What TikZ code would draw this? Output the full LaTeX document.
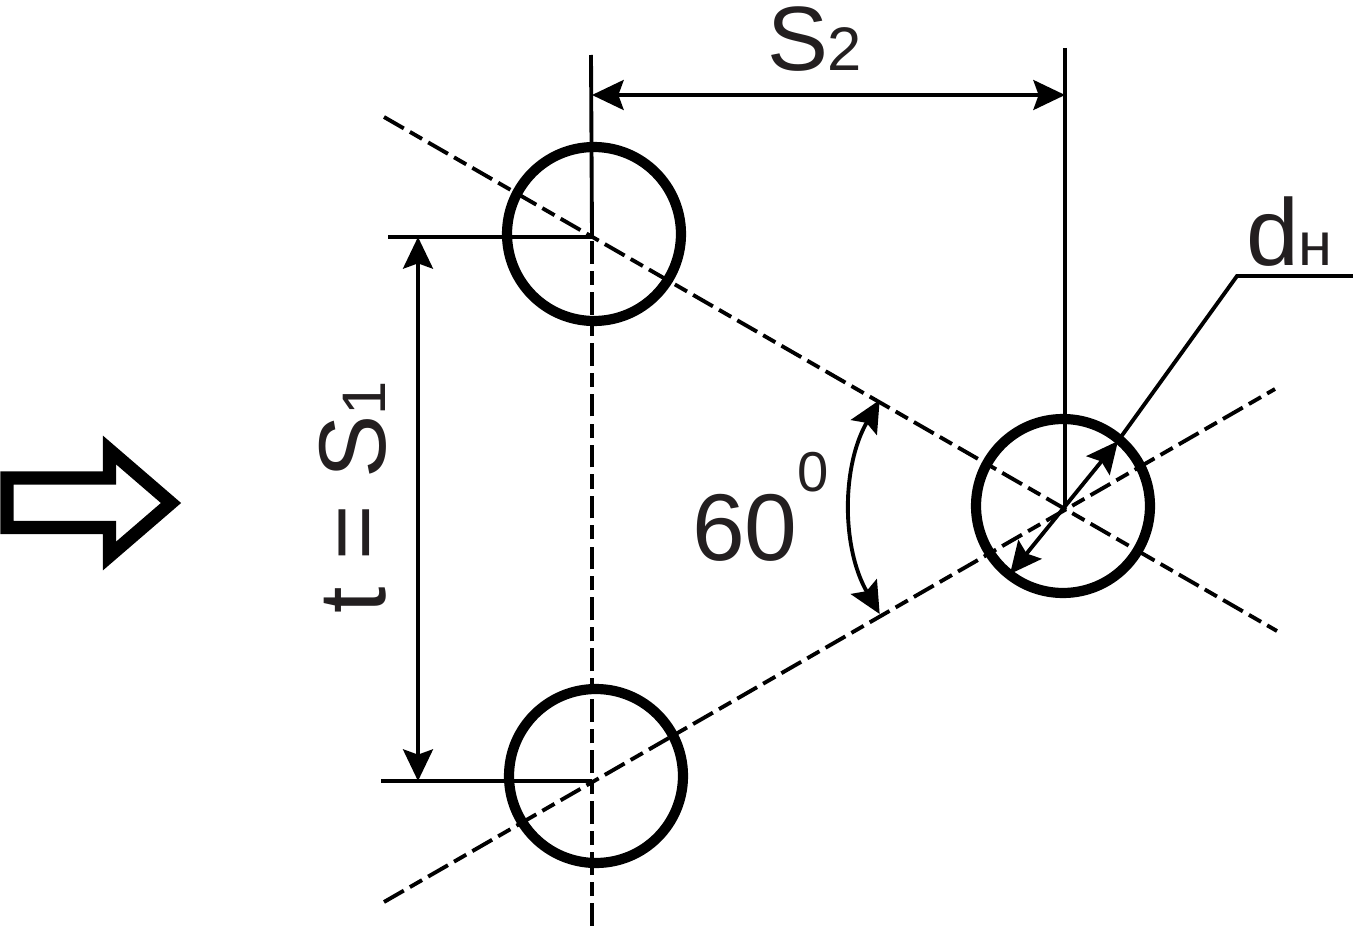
\documentclass[tikz,border=0pt]{standalone}
\usepackage{fontspec}
\setmainfont{Liberation Sans}
\usetikzlibrary{arrows.meta}
\definecolor{labelcolor}{HTML}{231F20}
\newcommand{\sublabel}{\fontsize{35}{35}\selectfont}
\tikzset{
  thinline/.style={line width=2.2pt},
  centerline/.style={line width=2.2pt,dash pattern=on 13pt off 4pt on 8pt off 4pt},
  tube/.style={circle,draw,line width=5.8pt,minimum size=3.48cm,inner sep=0pt,outer sep=0pt},
  dimline/.style={thinline,{Stealth[length=18pt,width=17pt,inset=3pt]}-{Stealth[length=18pt,width=17pt,inset=3pt]}},
  biglabel/.style={text=labelcolor,font=\fontsize{54}{54}\selectfont,inner sep=0pt,outer sep=0pt},
}
\begin{document}
\begin{tikzpicture}[x=0.02cm,y=0.02cm]
\useasboundingbox (0,0) rectangle (1353,-926);

% draw tubes
\foreach \name/\x/\y in {tubeTop/594/-234,tubeBottom/596/-776,tubeRight/1063/-506}
{
\node[tube] (\name) at (\x,\y) {};
}

% centre points and line ends
\coordinate (centerTop) at (592,-236);
\coordinate (centerBottom) at (592,-781);
\coordinate (apex) at (1065,-507);
\coordinate (axisTop) at (591,-55);
\coordinate (axisEnd) at (592,-926);
\coordinate (rightTop) at (1065,-48);
\coordinate (diagUp) at (384,-117);
\coordinate (diagUpEnd) at (1277,-631);
\coordinate (diagDown) at (384,-902);
\coordinate (diagDownEnd) at (1275,-389);

% draw centre lines
\draw[centerline] (axisEnd) -- (centerTop);
\draw[centerline] (diagUp) -- (diagUpEnd);
\draw[centerline] (diagDown) -- (diagDownEnd);

% draw extension lines
\draw[thinline] (axisTop) -- (centerTop);
\draw[thinline] (rightTop) -- (apex);
\coordinate (extTop) at (388,-237);
\coordinate (extBottom) at (381,-781);
\draw[thinline] (extTop) -- (centerTop |- extTop);
\draw[thinline] (extBottom) -- (centerBottom);

% draw dimensions
\coordinate (s2Left) at (592,-95);
\coordinate (s2Right) at (1065,-95);
\draw[dimline] (s2Left) -- (s2Right);
\coordinate (tTop) at (418,-237);
\coordinate (tBottom) at (418,-781);
\draw[dimline] (tTop) -- (tBottom);
\coordinate (angleTop) at ([shift={(150:214)}]apex);
\draw[dimline] (angleTop) arc[start angle=150,end angle=210,radius=214];

% draw diameter and leader
\coordinate (dTip) at (1118,-441);
\coordinate (dTail) at (1010,-574);
\coordinate (dKnee) at (1237,-276);
\coordinate (dEnd) at (1353,-276);
\draw[dimline] (dTail) -- (dTip);
\draw[thinline] (dTip) -- (dKnee) -- (dEnd);

% draw hollow arrow
\draw[line width=7.5pt,miter limit=10] (7,-478) -- (109.5,-478) -- (109.5,-450) -- (171,-503)
  -- (109.5,-556) -- (109.5,-527.5) -- (7,-527.5) -- cycle;

% draw labels
\node[biglabel,anchor=base west,font=\fontsize{52}{52}\selectfont] (labelS) at (767,-71) {S{\sublabel 2}};
\node[biglabel,anchor=base west] (labelD) at (1246,-265) {d{\sublabel н}};
\node[biglabel,anchor=base west] (labelAngle) at (692,-560) {60};
\node[biglabel,anchor=base west,font=\fontsize{32}{32}\selectfont] (labelDeg) at (797,-491) {0};
\node[biglabel,anchor=base west,rotate=90] (labelT) at (385,-613) {t = S{\sublabel 1}};
\end{tikzpicture}
\end{document}
